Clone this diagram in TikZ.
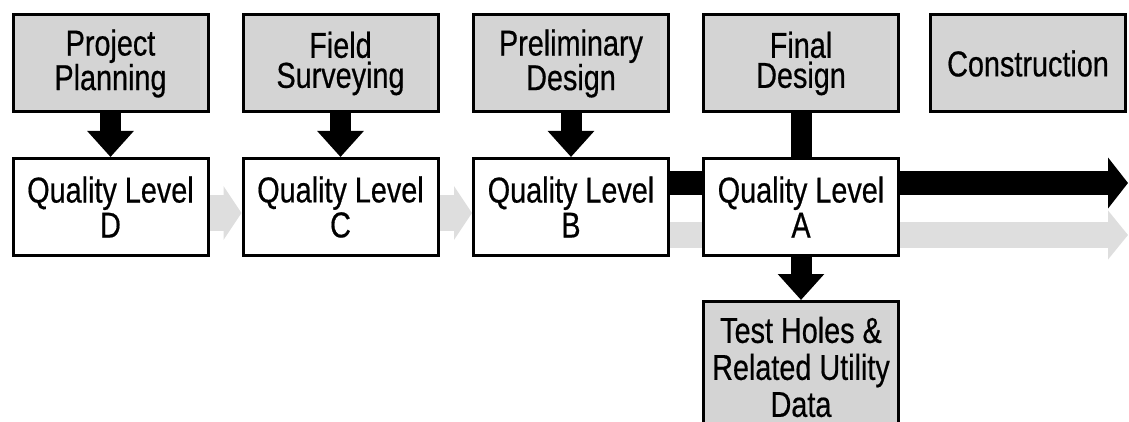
\documentclass[tikz,border=0pt]{standalone}
\usepackage{fontspec}
\setmainfont{Liberation Sans}[FakeStretch=0.8,FakeBold=0.5]
\usepackage{xcolor}
\usetikzlibrary{positioning,arrows.meta,backgrounds,calc}
\definecolor{boxgray}{RGB}{212,212,212}
\definecolor{trailgray}{RGB}{222,222,222}
\tikzset{
  stage/.style={draw,line width=3pt,fill=boxgray,minimum width=195pt,minimum height=97pt,
    inner sep=0pt,align=center,font=\fontsize{36}{30}\selectfont},
  level/.style={stage,fill=white,font=\fontsize{36}{35}\selectfont},
  feed/.style={line width=21pt,-{Triangle[length=26pt,width=45pt]}},
  trail/.style={trailgray,line width=35pt,-{Triangle[length=18pt,width=53pt]}}
}
\begin{document}
\begin{tikzpicture}[x=1pt,y=-1pt]
\useasboundingbox (0,0) rectangle (1129,422);
\clip (0,0) rectangle (1129,422);

% project phases
\node[stage] (pp) at (110.5,63.5) {Project\\Planning};
\node[stage] (fs) at (340.5,63.5) {Field\\Surveying};
\node[stage] (pd) at (571,63.5) {Preliminary\\Design};
\node[stage] (fd) at (801,63.5) {Final\\Design};
\node[stage] (co) at (1028,63.5) {Construction};

% quality levels
\node[level] (qd) at (110.5,207) {Quality Level\\D};
\node[level] (qc) at (340.5,207) {Quality Level\\C};
\node[level] (qb) at (571,207) {Quality Level\\B};
\node[level] (qa) at (801,207) {Quality Level\\A};

\node[stage,minimum height=131pt,font=\fontsize{36}{37}\selectfont,anchor=north] (th) at (801,300)
  {Test Holes \&\\Related Utility\\Data};

\coordinate (hiend) at (1128,183);
\coordinate (loend) at (1128,235);

\begin{scope}[on background layer]
\draw[trail] ([yshift=-6pt]qd.center) -- ([yshift=-6pt]qc.west);
\draw[trail] ([yshift=-6pt]qc.center) -- ([yshift=-6pt]qb.west);
\draw[trailgray,line width=26pt,-{Triangle[length=20pt,width=48pt]}] ([yshift=-28pt]qb.center) -- (loend);
\draw[line width=24pt,-{Triangle[length=20pt,width=50pt]}] ([yshift=24pt]qb.center) -- (hiend);
\draw[feed] (pp.south) -- (qd.north);
\draw[feed] (fs.south) -- (qc.north);
\draw[feed] (pd.south) -- (qb.north);
\draw[line width=21pt] (fd.south) -- (qa.north);
\draw[feed] (qa.south) -- (th.north);
\end{scope}
\end{tikzpicture}
\end{document}
